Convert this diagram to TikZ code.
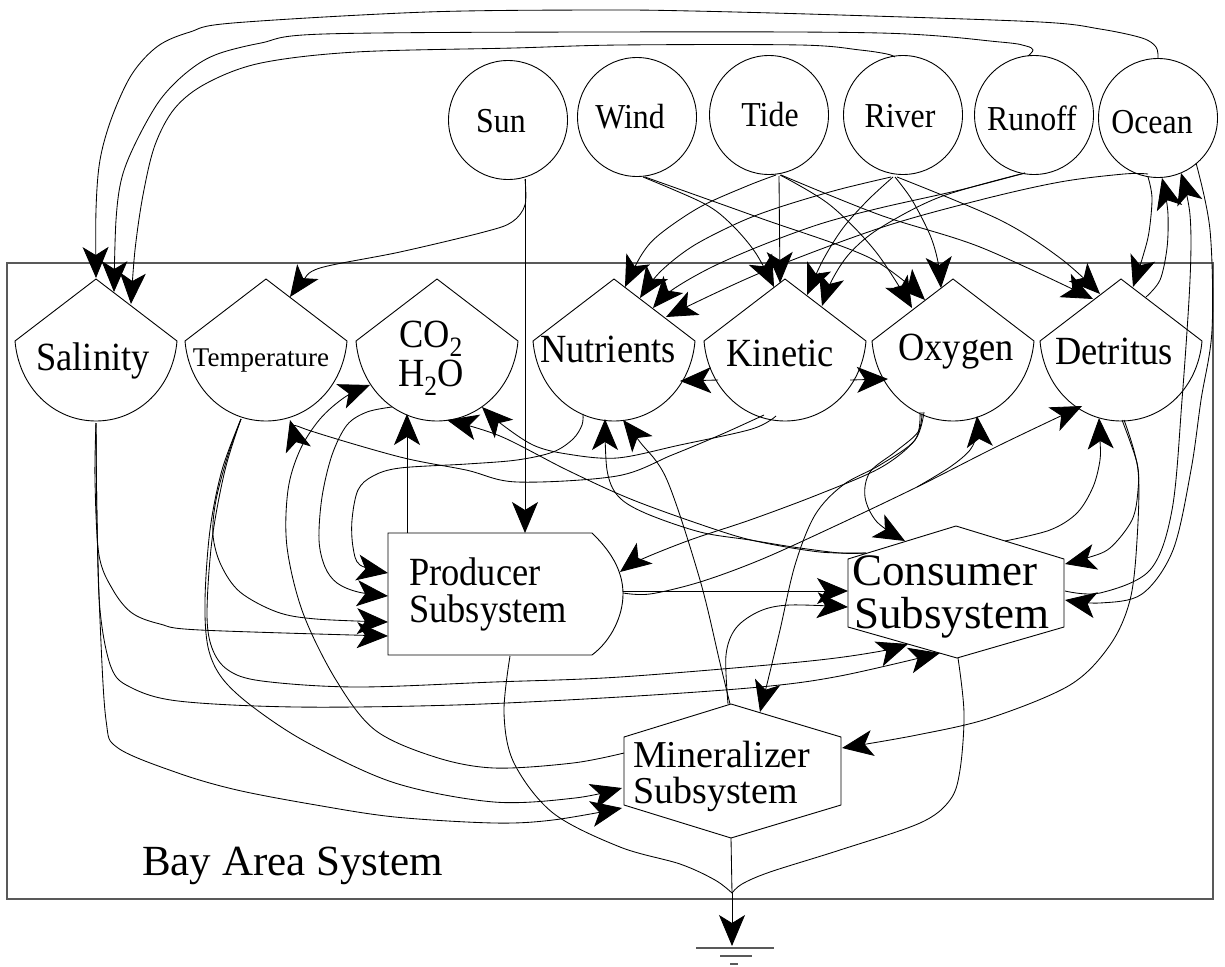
\documentclass[tikz,border=0pt]{standalone}
\usepackage{fontspec}
\setmainfont{Liberation Serif}
\newfontfamily\condfont[FakeStretch=0.91]{Liberation Serif}
\usetikzlibrary{arrows.meta}
\newcommand\fsrc{\condfont\fontsize{35}{35}\selectfont}
\newcommand\fsto{\condfont\fontsize{40}{40}\selectfont}
\newcommand\ftemp{\fontsize{27}{27}\selectfont}
\newcommand\fco{\condfont\fontsize{40}{40}\selectfont}
\newcommand\fprod{\condfont\fontsize{40}{40}\selectfont}
\newcommand\fcons{\fontsize{45}{45}\selectfont}
\newcommand\fminer{\fontsize{38}{38}\selectfont}
\newcommand\fbay{\fontsize{43}{43}\selectfont}
\newcommand\storage[5]{%
  \draw[shp] (#2,279) -- (#2+81,341) .. controls (#2+77,388) and (#2+42,421) .. (#2,421)
     .. controls (#2-42,421) and (#2-77,388) .. (#2-81,341) -- cycle;
  \node[anchor=base, inner sep=0pt] (#1) at (#3,#4) {#5};}
\begin{document}
\begin{tikzpicture}[x=1pt,y=-1pt,
  shp/.style={draw=black, line width=0.9pt},
  src/.style={draw=black, circle, minimum size=119pt, inner sep=0pt, line width=0.9pt},
  lbl/.style={anchor=base, inner sep=0pt},
  flow/.style={line width=0.85pt, -{Stealth[length=31pt,width=26pt,inset=8pt]}},
  plain/.style={line width=0.85pt},
  sm/.style={smooth, tension=0.55}]
\useasboundingbox (0,0) rectangle (1225,966);

% system boundary
\draw[gray!70!black, line width=1.5pt] (7,263) rectangle (1213,899);
\node[font=\fbay, anchor=base west, inner sep=0pt] (bay) at (142,875) {Bay Area System};

% sources
\node[src] (sun) at (508,120) {};
\node[src] (wind) at (637,117) {};
\node[src] (tide) at (769,115) {};
\node[src] (river) at (903,115) {};
\node[src] (runoff) at (1034,115) {};
\node[src] (ocean) at (1158,118) {};
\node[lbl, font=\fsrc] (sunT) at (501,132) {Sun};
\node[lbl, font=\fsrc] (windT) at (630,128) {Wind};
\node[lbl, font=\fsrc] (tideT) at (770,126) {Tide};
\node[lbl, font=\fsrc] (riverT) at (900,127) {River};
\node[lbl, font=\fsrc] (runoffT) at (1032,130) {Runoff};
\node[lbl, font=\fsrc] (oceanT) at (1152,133) {Ocean};

% storages
\storage{sal}{96}{93}{370}{\fsto Salinity}
\storage{temp}{266}{261}{366}{\ftemp Temperature}
\storage{co}{437}{431}{347}{\fco CO\textsubscript{2}}
\node[lbl, font=\fco] (coB) at (431,386) {H\textsubscript{2}O};
\storage{nut}{614}{608}{362}{\fsto Nutrients}
\storage{kin}{785}{780}{366}{\fsto Kinetic}
\storage{oxy}{953}{956}{360}{\fsto Oxygen}
\storage{det}{1121}{1114}{364}{\fsto Detritus}

% producer
\draw[shp] (592,533) -- (388,533) -- (388,655) -- (592,655)
  .. controls (612,640) and (623,615) .. (623,594)
  .. controls (623,575) and (615,555) .. (592,533);
\node[lbl, anchor=base west, font=\fprod] (prod) at (409,585) {Producer};
\node[lbl, anchor=base west, font=\fprod] (prodB) at (409,622) {Subsystem};

% consumer
\draw[shp] (956,526) -- (1064,559) -- (1064,627) -- (957,658) -- (848,627) -- (848,559) -- cycle;
\node[lbl, anchor=base west, font=\fcons] (cons) at (852,585) {Consumer};
\node[lbl, anchor=base west, font=\fcons] (consB) at (854,628) {Subsystem};

% mineralizer
\draw[shp] (731,704) -- (841,737) -- (841,805) -- (731,838) -- (624,805) -- (624,737) -- cycle;
\node[lbl, anchor=base west, font=\fminer] (miner) at (633,767) {Mineralizer};
\node[lbl, anchor=base west, font=\fminer] (minerB) at (633,803) {Subsystem};

% heat sink
\coordinate (sinkjoin) at (732,893);
\coordinate (sink) at (732,946);
\draw[gray!70!black, line width=1.6pt] (696,948) -- (774,948);
\draw[gray!70!black, line width=1.6pt] (720,956) -- (752,956);
\draw[gray!70!black, line width=1.6pt] (730,964) -- (738,964);

% ---- flows from sources ----
\draw[flow] (525,179) -- (525,533);
\draw[flow] plot[sm] coordinates {(525,179) (525,205) (512,222) (484,232) (400,252) (320,268) (302,282) (290,297)};
\draw[flow] plot[sm] coordinates {(1158,58) (1156,47) (1142,38) (1100,29) (1040,22) (840,15) (692,11) (600,10) (427,12) (233,23) (190,32) (158,46) (132,74) (112,117) (100,160) (96,210) (96,278)};
\draw[flow] plot[sm] coordinates {(1028,56) (1033,50) (1026,46) (1000,42) (880,33) (600,32) (324,34) (261,43) (215,55) (186,73) (160,100) (137,140) (122,177) (116,220) (114,292)};
\draw[flow] plot[sm] coordinates {(895,57) (887,54) (860,50) (800,45) (620,45) (514,48) (356,52) (261,63) (207,83) (175,108) (155,145) (143,195) (135,250) (131,304)};

\draw[flow] plot[sm] coordinates {(643,177) (703,203) (730,223) (755,252) (774,287)};
\draw[flow] plot[sm] coordinates {(645,177) (760,218) (870,258) (925,300)};
\draw[flow] (779,176) -- (780,283);
\draw[flow] plot[sm] coordinates {(776,175) (747,186) (700,207) (660,234) (642,254) (625,287)};
\draw[flow] plot[sm] coordinates {(780,175) (830,205) (876,252) (912,308)};
\draw[flow] plot[sm] coordinates {(781,175) (880,215) (980,247) (1093,299)};
\draw[flow] plot[sm] coordinates {(895,177) (912,200) (930,235) (938,262) (941,288)};
\draw[flow] plot[sm] coordinates {(897,177) (1000,220) (1060,258) (1100,294)};
\draw[flow] plot[sm] coordinates {(893,177) (868,200) (843,228) (823,260) (807,295)};
\draw[flow] plot[sm] coordinates {(891,177) (837,190) (780,207) (740,222) (693,246) (660,272) (640,298)};
\draw[flow] plot[sm] coordinates {(1025,173) (960,190) (880,208) (820,224) (760,246) (710,268) (672,290) (653,308)};
\draw[flow] plot[sm] coordinates {(1025,173) (940,197) (880,228) (850,253) (832,280) (822,306)};
\draw[flow] plot[sm] coordinates {(1148,174) (1124,174) (1060,182) (980,200) (880,228) (760,273) (666,317)};
\draw[flow] plot[sm] coordinates {(1148,177) (1152,198) (1149,232) (1143,256) (1133,287)};
\draw[flow] plot[sm] coordinates {(1146,297) (1160,280) (1167,248) (1168,215) (1165,192) (1162,178)};
\draw[flow] plot[sm] coordinates {(1196,163) (1210,230) (1212,330) (1201,400) (1191,470) (1173,550) (1142,594) (1100,603) (1065,600)};
\draw[flow] plot[sm] coordinates {(1065,591) (1100,593) (1150,570) (1172,510) (1182,400) (1190,280) (1190,215) (1181,173)};

% ---- internal flows ----
\draw[flow] plot[sm] coordinates {(1122,420) (1137,463) (1138,490) (1132,520) (1110,548) (1087,558) (1065,564)};
\draw[flow] plot[sm] coordinates {(1124,420) (1138,470) (1137,540) (1130,600) (1110,645) (1070,685) (990,718) (917,735) (842,748)};
\draw[flow] plot[sm] coordinates {(1005,541) (1050,530) (1077,513) (1093,487) (1100,460) (1100,440) (1099,418)};
\draw[flow] plot[sm] coordinates {(866,553) (840,553) (793,547) (750,540) (700,532) (645,513) (618,496) (607,470) (605,419)};
\draw[flow] plot[sm] coordinates {(866,553) (820,552) (760,542) (717,530) (633,500) (567,470) (500,436) (447,420)};
\draw[flow] (718,380) -- (680,381);
\draw[flow] (850,380) -- (888,379);
\draw[flow] plot[sm] coordinates {(776,416) (752,429) (680,445) (617,458) (567,454) (533,445) (500,423) (482,407)};
\draw[flow] plot[sm] coordinates {(764,415) (720,435) (672,455) (617,476) (517,482) (466,470) (400,457) (308,430) (290,420)};
\draw[flow] plot[sm] coordinates {(583,414) (582,425) (573,439) (553,452) (517,460) (467,464) (400,468) (373,476) (358,490) (352,520) (353,547) (360,565) (388,573)};
\draw[flow] plot[sm] coordinates {(392,407) (367,412) (347,425) (332,455) (322,497) (319,540) (325,567) (337,583) (358,592) (388,596)};
\draw[flow] plot[sm] coordinates {(241,419) (228,455) (216,500) (213,535) (221,565) (240,592) (277,612) (316,619) (388,622)};
\draw[flow] plot[sm] coordinates {(241,419) (225,470) (212,540) (207,613) (212,648) (228,670) (262,681) (356,687) (494,682) (620,677) (800,662) (876,652) (908,644)};
\draw[flow] plot[sm] coordinates {(241,419) (222,470) (210,530) (205,600) (208,647) (222,678) (253,707) (308,743) (395,783) (494,802) (575,798) (622,788)};
\draw[flow] plot[sm] coordinates {(96,423) (95,480) (99,555) (113,590) (132,613) (160,624) (200,630) (388,636)};
\draw[flow] plot[sm] coordinates {(96,423) (97,520) (100,610) (111,667) (130,687) (178,701) (296,707) (455,705) (620,697) (760,687) (840,676) (940,653)};
\draw[flow] plot[sm] coordinates {(96,423) (97,520) (100,620) (106,720) (118,748) (178,773) (237,790) (316,805) (395,817) (494,823) (553,820) (622,808)};
\draw[flow] plot[sm] coordinates {(624,753) (573,763) (494,768) (435,757) (375,730) (336,680) (303,613) (287,547) (288,490) (300,450) (320,419) (345,397) (370,385)};
\draw[flow] plot[sm] coordinates {(730,704) (720,663) (700,580) (667,480) (640,442) (623,420)};
\draw[flow] plot[sm] coordinates {(728,704) (726,655) (736,628) (760,611) (790,605) (848,607)};
\draw[flow] plot[sm] coordinates {(920,412) (915,440) (880,465) (843,485) (815,515) (795,565) (780,630) (768,680) (760,712)};
\draw[flow] plot[sm] coordinates {(922,412) (918,432) (895,452) (870,472) (865,497) (877,522) (905,541)};
\draw[flow] plot[sm] coordinates {(924,412) (915,440) (880,468) (817,495) (750,520) (690,540) (640,560) (620,572)};
\draw[flow] (623,591) -- (848,591);
\draw[flow] plot[sm] coordinates {(623,593) (650,594) (700,582) (760,560) (833,527) (917,487) (1000,445) (1082,406)};
\draw[flow] plot[sm] coordinates {(917,487) (950,467) (970,450) (977,433) (977,416)};
\draw[flow] (407,533) -- (407,414);
\draw[plain] plot[sm] coordinates {(510,656) (504,713) (514,763) (553,813) (620,847) (680,864) (715,880) (sinkjoin)};
\draw[plain] plot[sm] coordinates {(958,658) (964,713) (960,770) (950,800) (920,823) (840,850) (770,872) (742,884) (sinkjoin)};
\draw[plain] (731,838) -- (sinkjoin);
\draw[flow] (sinkjoin) -- (sink);
\end{tikzpicture}
\end{document}
